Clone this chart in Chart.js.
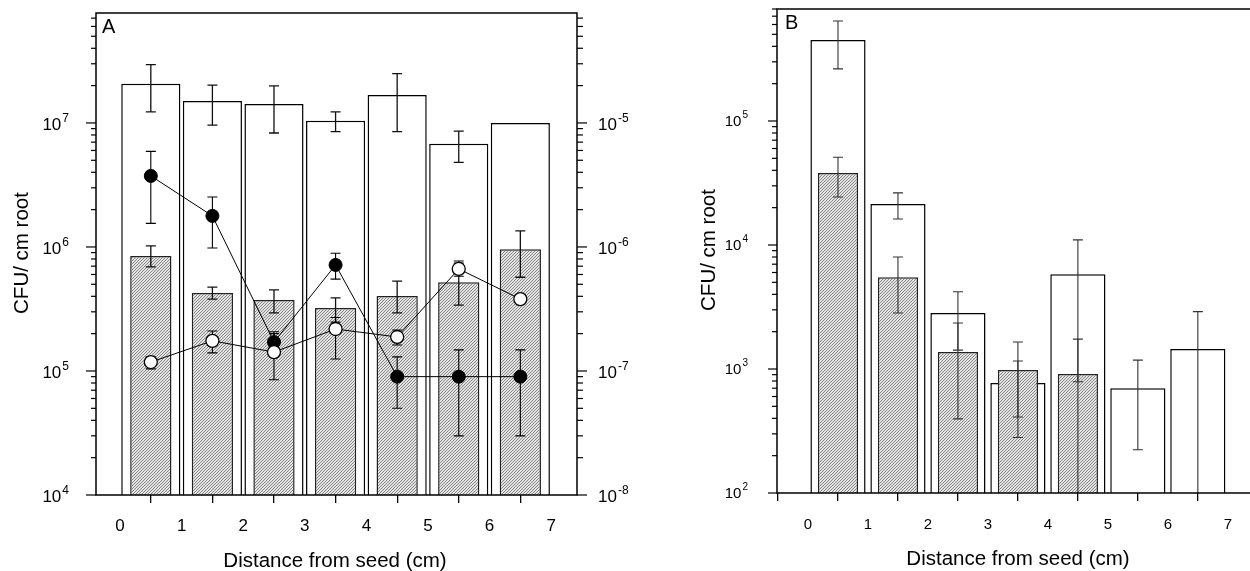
<!DOCTYPE html>
<html>
<head>
<meta charset="utf-8">
<script src="https://cdn.jsdelivr.net/npm/chart.js@4.4.1/dist/chart.umd.min.js"></script>
<style>
  html, body { margin: 0; padding: 0; background: #fff; overflow: hidden; }
  #panelA { position: absolute; left: 0; top: 0; }
  #panelB { position: absolute; left: 640px; top: 0; }
</style>
</head>
<body>
<canvas id="panelA" width="640" height="571"></canvas>
<canvas id="panelB" width="610" height="571"></canvas>
<script>
// Datos (posición de cada barra: centro del intervalo en cm)
const distancias = [0.5, 1.5, 2.5, 3.5, 4.5, 5.5, 6.5];
const ticksDistancia = [0, 1, 2, 3, 4, 5, 6, 7];

// Panel A - barras blancas (CFU/ cm root)
const blancoA = [2.07e7, 1.5e7, 1.42e7, 1.04e7, 1.68e7, 6.8e6, 1.0e7];
const blancoAAlto = [2.95e7, 2.02e7, 1.99e7, 1.23e7, 2.5e7, 8.6e6, null];
const blancoABajo = [1.23e7, 9.6e6, 8.3e6, 8.5e6, 8.5e6, 4.8e6, null];
// Panel A - barras grises
const grisA = [8.45e5, 4.26e5, 3.74e5, 3.22e5, 4.03e5, 5.2e5, 9.6e5];
const grisAAlto = [1.02e6, 4.75e5, 4.5e5, 3.88e5, 5.3e5, 7.4e5, 1.35e6];
const grisABajo = [6.9e5, 3.8e5, 2.94e5, 2.48e5, 2.94e5, 3.4e5, 5.7e5];
// Panel A - círculos llenos (Relative light units/ CFU)
const llenosA = [3.74e-6, 1.78e-6, 1.71e-7, 7.16e-7, 9.0e-8, 9.0e-8, 9.0e-8];
const llenosAAlto = [5.9e-6, 2.53e-6, 2.07e-7, 8.9e-7, 1.3e-7, 1.48e-7, 1.48e-7];
const llenosABajo = [1.55e-6, 9.8e-7, 1.48e-7, 5.5e-7, 5.0e-8, 3.0e-8, 3.0e-8];
// Panel A - círculos abiertos
const abiertosA = [1.18e-7, 1.75e-7, 1.42e-7, 2.18e-7, 1.88e-7, 6.65e-7, 3.8e-7];
const abiertosAAlto = [1.3e-7, 2.1e-7, 2.0e-7, 2.7e-7, 2.14e-7, 7.7e-7, null];
const abiertosABajo = [1.04e-7, 1.4e-7, 8.5e-8, 1.25e-7, 1.62e-7, 5.8e-7, null];

// Panel B
const blancoB = [4.5e5, 2.14e4, 2.83e3, 7.7e2, 5.8e3, 7.0e2, 1.45e3];
const blancoBAlto = [6.4e5, 2.63e4, 4.2e3, 1.16e3, 1.1e4, 1.18e3, 2.9e3];
const blancoBBajo = [2.63e5, 1.62e4, 1.42e3, 4.1e2, 7.9e2, 2.23e2, 50];
const grisB = [3.8e4, 5.5e3, 1.37e3, 9.8e2, 9.1e2, null, null];
const grisBAlto = [5.1e4, 8.0e3, 2.35e3, 1.65e3, 1.74e3, null, null];
const grisBBajo = [2.44e4, 2.83e3, 3.96e2, 2.8e2, 50, null, null];

const FUENTE = '"Liberation Sans", Arial, Helvetica, sans-serif';

const puntos = valores => distancias.map((x, i) => ({ x, y: valores[i] }));

// 1. Trama gris rayada para las barras sombreadas
const crearTrama = (ctx) => {
  const t = document.createElement('canvas');
  t.width = 3; t.height = 3;
  const g = t.getContext('2d');
  g.fillStyle = '#e2e2e2';
  g.fillRect(0, 0, 3, 3);
  g.fillStyle = '#8a8a8a';
  for (let i = 0; i < 3; i++) g.fillRect(i, 2 - i, 1, 1);
  return ctx.createPattern(t, 'repeat');
};

// 2. Barras de error dibujadas con las escalas del gráfico
const dibujarErrores = (chart, indice, escala, alto, bajo, estilo) => {
  const meta = chart.getDatasetMeta(indice);
  const { ctx, chartArea: area } = chart;
  ctx.save();
  ctx.beginPath();
  ctx.rect(area.left, area.top, area.right - area.left, area.bottom - area.top);
  ctx.clip();
  ctx.strokeStyle = estilo.color;
  ctx.lineWidth = estilo.ancho;
  meta.data.forEach((el, i) => {
    if (alto[i] == null || bajo[i] == null) return;
    const x = el.x;
    const yA = escala.getPixelForValue(alto[i]);
    const yB = escala.getPixelForValue(bajo[i]);
    ctx.beginPath();
    ctx.moveTo(x, yA); ctx.lineTo(x, yB);
    ctx.moveTo(x - estilo.tapa, yA); ctx.lineTo(x + estilo.tapa, yA);
    ctx.moveTo(x - estilo.tapa, yB); ctx.lineTo(x + estilo.tapa, yB);
    ctx.stroke();
  });
  ctx.restore();
};

const pluginErrores = {
  id: 'errores',
  afterDatasetDraw(chart, args) {
    const ds = chart.data.datasets[args.index];
    if (!ds.erroresBarras) return;
    // cuando termina la barra gris se dibujan los errores de todas las barras
    chart.data.datasets.forEach((d, i) => {
      if (d.type === 'bar' && d.errAlto) {
        dibujarErrores(chart, i, chart.scales[d.yAxisID], d.errAlto, d.errBajo, d.estiloError);
      }
    });
  },
  beforeDatasetDraw(chart, args) {
    const ds = chart.data.datasets[args.index];
    if (ds.type === 'line' && ds.errAlto) {
      dibujarErrores(chart, args.index, chart.scales[ds.yAxisID], ds.errAlto, ds.errBajo, ds.estiloError);
    }
  }
};

// 3. Marco, marcas logarítmicas, potencias de diez y títulos
const dibujarPotencia = (ctx, k, eje, y) => {
  const base = '10';
  const exp = String(k);
  ctx.font = `${eje.fuente}px ${FUENTE}`;
  const wBase = ctx.measureText(base).width;
  ctx.font = `${eje.fuenteSup}px ${FUENTE}`;
  const wExp = ctx.measureText(exp).width;
  const x0 = eje.lado === 'izq' ? eje.xEtiqueta - wBase - wExp - 1 : eje.xEtiqueta;
  ctx.fillStyle = '#000';
  ctx.textAlign = 'left';
  ctx.textBaseline = 'alphabetic';
  ctx.font = `${eje.fuente}px ${FUENTE}`;
  ctx.fillText(base, x0, y + eje.bajaBase);
  ctx.font = `${eje.fuenteSup}px ${FUENTE}`;
  ctx.fillText(exp, x0 + wBase + 1, y + eje.subeSup);
};

const pluginDecoracion = {
  id: 'decoracion',
  afterDraw(chart, args, opts) {
    const { ctx, chartArea: area } = chart;
    ctx.save();
    ctx.strokeStyle = '#000';
    ctx.lineWidth = 1.5;
    ctx.beginPath();
    if (opts.marcoCompleto) {
      ctx.rect(area.left, area.top, area.right - area.left, area.bottom - area.top);
    } else {
      ctx.moveTo(area.right + 2, area.top);
      ctx.lineTo(area.left, area.top);
      ctx.lineTo(area.left, area.bottom);
      ctx.lineTo(area.right + 2, area.bottom);
    }
    ctx.stroke();

    opts.ejes.forEach(eje => {
      const escala = chart.scales[eje.id];
      const x0 = eje.lado === 'izq' ? area.left : area.right;
      const dir = eje.lado === 'izq' ? -1 : 1;
      const kMin = Math.floor(Math.log10(escala.min));
      const kMax = Math.ceil(Math.log10(escala.max));
      ctx.lineWidth = 1.2;
      for (let k = kMin; k <= kMax; k++) {
        for (let m = 1; m <= 9; m++) {
          const v = m * Math.pow(10, k);
          if (v < escala.min * 0.999 || v > escala.max * 1.001) continue;
          const y = escala.getPixelForValue(v);
          const largo = m === 1 ? eje.largoMayor : eje.largoMenor;
          ctx.beginPath();
          ctx.moveTo(x0, y);
          ctx.lineTo(x0 + dir * largo, y);
          ctx.stroke();
          if (m === 1) dibujarPotencia(ctx, k, eje, y);
        }
      }
    });

    ctx.fillStyle = '#000';
    opts.titulos.forEach(t => {
      ctx.save();
      ctx.font = `${t.fuente}px ${FUENTE}`;
      ctx.textAlign = t.alinear || 'center';
      ctx.textBaseline = 'alphabetic';
      ctx.translate(t.x, t.y);
      if (t.vertical) ctx.rotate(-Math.PI / 2);
      ctx.fillText(t.texto, 0, 0);
      ctx.restore();
    });
    ctx.restore();
  }
};

const escalaX = (min, max, fuente, relleno) => ({
  type: 'linear',
  min, max,
  offset: false,
  afterBuildTicks: s => { s.ticks = ticksDistancia.map(v => ({ value: v })); },
  afterFit: s => { s.height = relleno.alto; },
  grid: { drawOnChartArea: false, drawTicks: true, tickLength: 8, color: '#000', lineWidth: 1.3 },
  border: { display: false },
  ticks: { color: '#000', padding: relleno.padding, font: { family: FUENTE, size: fuente }, maxRotation: 0 }
});

const escalaLog = (min, max, posicion, ancho) => ({
  type: 'logarithmic',
  position: posicion,
  min, max,
  afterFit: s => { s.width = ancho; },
  grid: { display: false },
  border: { display: false },
  ticks: { display: false }
});

document.addEventListener('DOMContentLoaded', () => {
  const ctxA = document.getElementById('panelA').getContext('2d');
  const ctxB = document.getElementById('panelB').getContext('2d');
  const tramaA = crearTrama(ctxA);
  const tramaB = crearTrama(ctxB);

  const errorBarraA = { color: '#111', ancho: 1.3, tapa: 5 };
  const errorBarraB = { color: '#333', ancho: 1.1, tapa: 5 };
  const errorPunto = { color: '#000', ancho: 1.1, tapa: 5 };

  // 4. Panel A: barras + curvas en el eje derecho
  new Chart(ctxA, {
    type: 'bar',
    data: {
      datasets: [
        {
          type: 'line', data: puntos(abiertosA), yAxisID: 'y2', order: 0,
          borderColor: '#000', borderWidth: 1, tension: 0, fill: false,
          pointRadius: 6.5, pointBackgroundColor: '#fff', pointBorderColor: '#000', pointBorderWidth: 1.3,
          errAlto: abiertosAAlto, errBajo: abiertosABajo, estiloError: errorPunto
        },
        {
          type: 'line', data: puntos(llenosA), yAxisID: 'y2', order: 1,
          borderColor: '#000', borderWidth: 1, tension: 0, fill: false,
          pointRadius: 6.5, pointBackgroundColor: '#000', pointBorderColor: '#000', pointBorderWidth: 1,
          errAlto: llenosAAlto, errBajo: llenosABajo, estiloError: errorPunto
        },
        {
          type: 'bar', data: puntos(grisA), yAxisID: 'y', order: 2, grouped: false,
          backgroundColor: tramaA, borderColor: '#222', borderWidth: 1.5,
          barPercentage: 0.67, categoryPercentage: 1,
          errAlto: grisAAlto, errBajo: grisABajo, estiloError: errorBarraA, erroresBarras: true
        },
        {
          type: 'bar', data: puntos(blancoA), yAxisID: 'y', order: 3, grouped: false,
          backgroundColor: '#fff', borderColor: '#000', borderWidth: 1.5,
          barPercentage: 0.96, categoryPercentage: 1,
          errAlto: blancoAAlto, errBajo: blancoABajo, estiloError: errorBarraA
        }
      ]
    },
    options: {
      responsive: false,
      animation: false,
      layout: { padding: { top: 13, left: 0, right: 0, bottom: 0 } },
      plugins: {
        legend: { display: false },
        tooltip: { enabled: false },
        decoracion: {
          marcoCompleto: true,
          ejes: [
            { id: 'y', lado: 'izq', xEtiqueta: 69, fuente: 17, fuenteSup: 12, bajaBase: 7, subeSup: -1, largoMayor: 10, largoMenor: 5 },
            { id: 'y2', lado: 'der', xEtiqueta: 598, fuente: 17, fuenteSup: 12, bajaBase: 7, subeSup: -1, largoMayor: 10, largoMenor: 6 }
          ],
          titulos: [
            { texto: 'A', x: 102, y: 33, fuente: 20, alinear: 'left' },
            { texto: 'CFU/ cm root', x: 28, y: 253, fuente: 20.5, vertical: true },
            { texto: 'Relative light units/ CFU', x: 661, y: 254, fuente: 20.5, vertical: true },
            { texto: 'Distance from seed (cm)', x: 335, y: 567, fuente: 20.5 }
          ]
        }
      },
      scales: {
        x: escalaX(-0.39, 7.42, 17, { alto: 76, padding: 13 }),
        y: escalaLog(1e4, 7.7e7, 'left', 96),
        y2: escalaLog(1e-8, 7.7e-5, 'right', 63)
      }
    },
    plugins: [pluginErrores, pluginDecoracion]
  });

  // 5. Panel B: solo barras
  new Chart(ctxB, {
    type: 'bar',
    data: {
      datasets: [
        {
          type: 'bar', data: puntos(grisB), yAxisID: 'y', order: 2, grouped: false,
          backgroundColor: tramaB, borderColor: '#222', borderWidth: 1.5,
          barPercentage: 0.67, categoryPercentage: 1,
          errAlto: grisBAlto, errBajo: grisBBajo, estiloError: errorBarraB, erroresBarras: true
        },
        {
          type: 'bar', data: puntos(blancoB), yAxisID: 'y', order: 3, grouped: false,
          backgroundColor: '#fff', borderColor: '#000', borderWidth: 1.5,
          barPercentage: 0.92, categoryPercentage: 1,
          errAlto: blancoBAlto, errBajo: blancoBBajo, estiloError: errorBarraB
        }
      ]
    },
    options: {
      responsive: false,
      animation: false,
      layout: { padding: { top: 9, left: 0, right: 0, bottom: 0 } },
      plugins: {
        legend: { display: false },
        tooltip: { enabled: false },
        decoracion: {
          marcoCompleto: false,
          ejes: [
            { id: 'y', lado: 'izq', xEtiqueta: 108, fuente: 15, fuenteSup: 10, bajaBase: 5, subeSup: -3, largoMayor: 9, largoMenor: 5 }
          ],
          titulos: [
            { texto: 'B', x: 145, y: 29, fuente: 20, alinear: 'left' },
            { texto: 'CFU/ cm root', x: 75, y: 250, fuente: 20.5, vertical: true },
            { texto: 'Distance from seed (cm)', x: 378, y: 565, fuente: 20.5 }
          ]
        }
      },
      scales: {
        x: escalaX(-0.517, 7.37, 15, { alto: 78, padding: 15 }),
        y: escalaLog(100, 8.0e5, 'left', 137)
      }
    },
    plugins: [pluginErrores, pluginDecoracion]
  });
});
</script>
</body>
</html>
